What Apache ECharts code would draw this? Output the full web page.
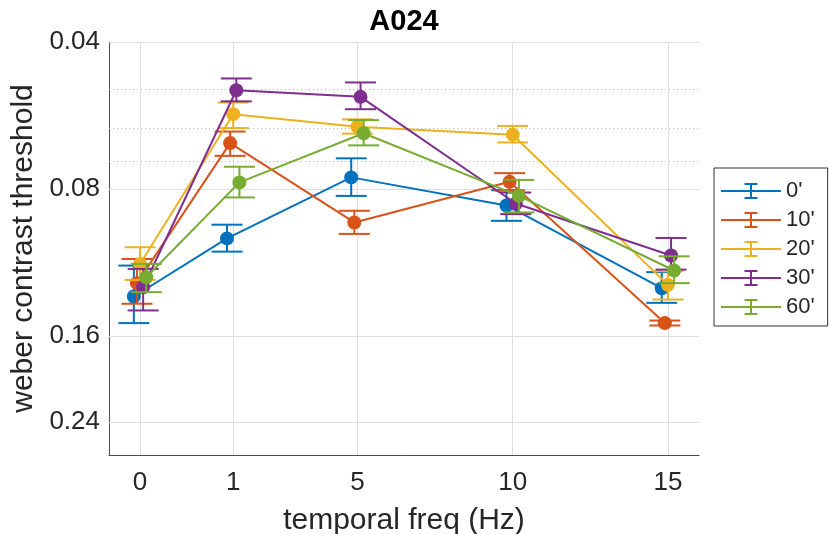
<!DOCTYPE html>
<html>
<head>
<meta charset="utf-8">
<title>A024</title>
<script src="https://cdn.jsdelivr.net/npm/echarts@6/dist/echarts.min.js"></script>
<style>
  html, body { margin: 0; padding: 0; background: #ffffff; }
  #chart { width: 829px; height: 534px; }
</style>
</head>
<body>
<div id="chart"></div>
<script>
// Temporal frequency conditions and where each sits along the x axis
const freqLabels = ['0', '1', '5', '10', '15'];
const freqPos = [0, 0.6, 1.4, 2.4, 3.4];

// Labelled threshold ticks and the dotted minor grid
const yTicks = [0.04, 0.08, 0.16, 0.24];
const yTickLabels = ['0.04', '0.08', '0.16', '0.24'];
const yMinor = [0.048, 0.056, 0.064, 0.072];

// Adaptation durations
const seriesNames = ["0'", "10'", "20'", "30'", "60'"];
const seriesColors = ['#0072BD', '#D95319', '#EDB120', '#7E2F8E', '#77AC30'];

// Mean weber contrast thresholds with lower / upper error-bar ends
const thr0 = [0.1327, 0.1009, 0.0757, 0.0864, 0.1276];
const lo0  = [0.1147, 0.0946, 0.0692, 0.0804, 0.1183];
const hi0  = [0.1504, 0.1074, 0.0826, 0.0929, 0.1367];

const thr10 = [0.1246, 0.0644, 0.0936, 0.0773, 0.1504];
const lo10  = [0.1112, 0.0610, 0.0886, 0.0742, 0.1486];
const hi10  = [0.1373, 0.0684, 0.0988, 0.0805, 0.1521];

const thr20 = [0.1138, 0.0562, 0.0596, 0.0619, 0.1256];
const lo20  = [0.1052, 0.0532, 0.0576, 0.0594, 0.1178];
const hi20  = [0.1227, 0.0600, 0.0616, 0.0642, 0.1346];

const thr30 = [0.1270, 0.0502, 0.0518, 0.0856, 0.1094];
const lo30  = [0.1165, 0.0475, 0.0484, 0.0813, 0.1007];
const hi30  = [0.1417, 0.0529, 0.0549, 0.0900, 0.1169];

const thr60 = [0.1212, 0.0775, 0.0615, 0.0826, 0.1174];
const lo60  = [0.1138, 0.0720, 0.0578, 0.0766, 0.1098];
const hi60  = [0.1300, 0.0832, 0.0651, 0.0893, 0.1246];

const groups = [
  { mean: thr0,  lo: lo0,  hi: hi0 },
  { mean: thr10, lo: lo10, hi: hi10 },
  { mean: thr20, lo: lo20, hi: hi20 },
  { mean: thr30, lo: lo30, hi: hi30 },
  { mean: thr60, lo: lo60, hi: hi60 }
];

// Small horizontal dodge so overlapping conditions stay readable
const dodge = [-0.04, -0.02, 0, 0.02, 0.04];

const FONT = '"Liberation Sans", Arial, Helvetica, sans-serif';
const TEXT = '#262626';
const AXIS = '#4d4d4d';
const CAP_HALF = 15.5;

function lookupLabel(v, positions, labels) {
  for (let i = 0; i < positions.length; i++) {
    if (Math.abs(positions[i] - v) < 1e-6 * Math.max(1, Math.abs(v))) return labels[i];
  }
  return '';
}

function errorBarRenderer(color) {
  return function (params, api) {
    const x = api.value(0);
    const pLo = api.coord([x, api.value(1)]);
    const pHi = api.coord([x, api.value(2)]);
    const style = { stroke: color, lineWidth: 2, fill: null };
    return {
      type: 'group',
      children: [
        { type: 'line', shape: { x1: pLo[0], y1: pLo[1], x2: pHi[0], y2: pHi[1] }, style: style },
        { type: 'line', shape: { x1: pLo[0] - CAP_HALF, y1: pLo[1], x2: pLo[0] + CAP_HALF, y2: pLo[1] }, style: style },
        { type: 'line', shape: { x1: pHi[0] - CAP_HALF, y1: pHi[1], x2: pHi[0] + CAP_HALF, y2: pHi[1] }, style: style }
      ]
    };
  };
}

// Grid lines drawn as mark lines so they follow the labelled ticks exactly
const majorGrid = { color: '#dedede', width: 1, type: 'solid' };
const minorGrid = { color: '#b8b8b8', width: 1, type: [1, 3] };
const gridLines = []
  .concat(freqPos.map(x => ({ xAxis: x, lineStyle: majorGrid })))
  .concat(yTicks.map(y => ({ yAxis: y, lineStyle: majorGrid })))
  .concat(yMinor.map(y => ({ yAxis: y, lineStyle: minorGrid })));

const series = [{
  name: 'grid',
  type: 'line',
  z: 1,
  data: [],
  symbol: 'none',
  silent: true,
  markLine: {
    silent: true,
    symbol: 'none',
    animation: false,
    label: { show: false },
    data: gridLines
  }
}];

groups.forEach((g, s) => {
  const color = seriesColors[s];
  series.push({
    name: seriesNames[s] + ' error',
    type: 'custom',
    z: 10 + 2 * s,
    silent: true,
    itemStyle: { color: color },
    encode: { x: 0, y: [1, 2] },
    renderItem: errorBarRenderer(color),
    data: freqPos.map((x, i) => [x + dodge[s], g.lo[i], g.hi[i]])
  });
  series.push({
    name: seriesNames[s],
    type: 'line',
    z: 11 + 2 * s,
    symbol: 'circle',
    symbolSize: 14,
    lineStyle: { color: color, width: 2 },
    itemStyle: { color: color, borderWidth: 0 },
    data: freqPos.map((x, i) => [x + dodge[s], g.mean[i]])
  });
});

// Legend glyph: horizontal line crossed by a capped error bar
const errorIcon = 'path://M0 7H60V9H0Z M29 0H31V16H29Z M23.5 0H36.5V2H23.5Z M23.5 14H36.5V16H23.5Z';

const option = {
  animation: false,
  backgroundColor: '#ffffff',
  textStyle: { fontFamily: FONT },
  graphic: [{
    type: 'text',
    x: 404,
    y: 22,
    style: {
      text: 'A024',
      textAlign: 'center',
      textVerticalAlign: 'middle',
      font: 'bold 29px ' + FONT,
      fill: '#000000'
    }
  }],
  grid: { left: 109, right: 130, top: 42, bottom: 79, outerBoundsMode: 'none', containLabel: false },
  legend: {
    data: seriesNames,
    orient: 'vertical',
    left: 714,
    top: 168,
    padding: [12, 13, 8, 7],
    itemWidth: 60,
    itemHeight: 16,
    itemGap: 7,
    itemTextGap: 5,
    icon: errorIcon,
    itemStyle: { borderWidth: 0 },
    backgroundColor: '#ffffff',
    borderColor: '#333333',
    borderWidth: 1,
    borderRadius: 0,
    textStyle: { fontSize: 22, color: TEXT, fontFamily: FONT },
    selectedMode: false
  },
  xAxis: {
    type: 'value',
    min: -0.2,
    max: 3.6,
    name: 'temporal freq (Hz)',
    nameLocation: 'middle',
    nameGap: 51,
    nameTextStyle: { fontSize: 30, color: TEXT, fontFamily: FONT },
    axisLine: { show: true, onZero: false, lineStyle: { color: AXIS, width: 1 } },
    axisTick: { show: true, inside: true, length: 5, customValues: freqPos, lineStyle: { color: AXIS } },
    axisLabel: {
      customValues: freqPos,
      fontSize: 26,
      color: TEXT,
      margin: 15,
      fontFamily: FONT,
      formatter: v => lookupLabel(v, freqPos, freqLabels)
    },
    splitLine: { show: false }
  },
  yAxis: {
    type: 'log',
    logBase: 10,
    min: 0.04,
    max: 0.28,
    inverse: true,
    name: 'weber contrast threshold',
    nameLocation: 'middle',
    nameGap: 56,
    nameTextStyle: { fontSize: 30, color: TEXT, fontFamily: FONT },
    axisLine: { show: true, onZero: false, lineStyle: { color: AXIS, width: 1 } },
    axisTick: { show: true, inside: true, length: 6, customValues: yTicks, lineStyle: { color: AXIS } },
    axisLabel: {
      customValues: yTicks,
      fontSize: 26,
      color: TEXT,
      margin: 9,
      fontFamily: FONT,
      formatter: v => lookupLabel(v, yTicks, yTickLabels)
    },
    splitLine: { show: false },
    minorTick: { show: false },
    minorSplitLine: { show: false }
  },
  series: series
};

const chart = echarts.init(document.getElementById('chart'), null, { renderer: 'canvas' });
chart.setOption(option);
</script>
</body>
</html>
